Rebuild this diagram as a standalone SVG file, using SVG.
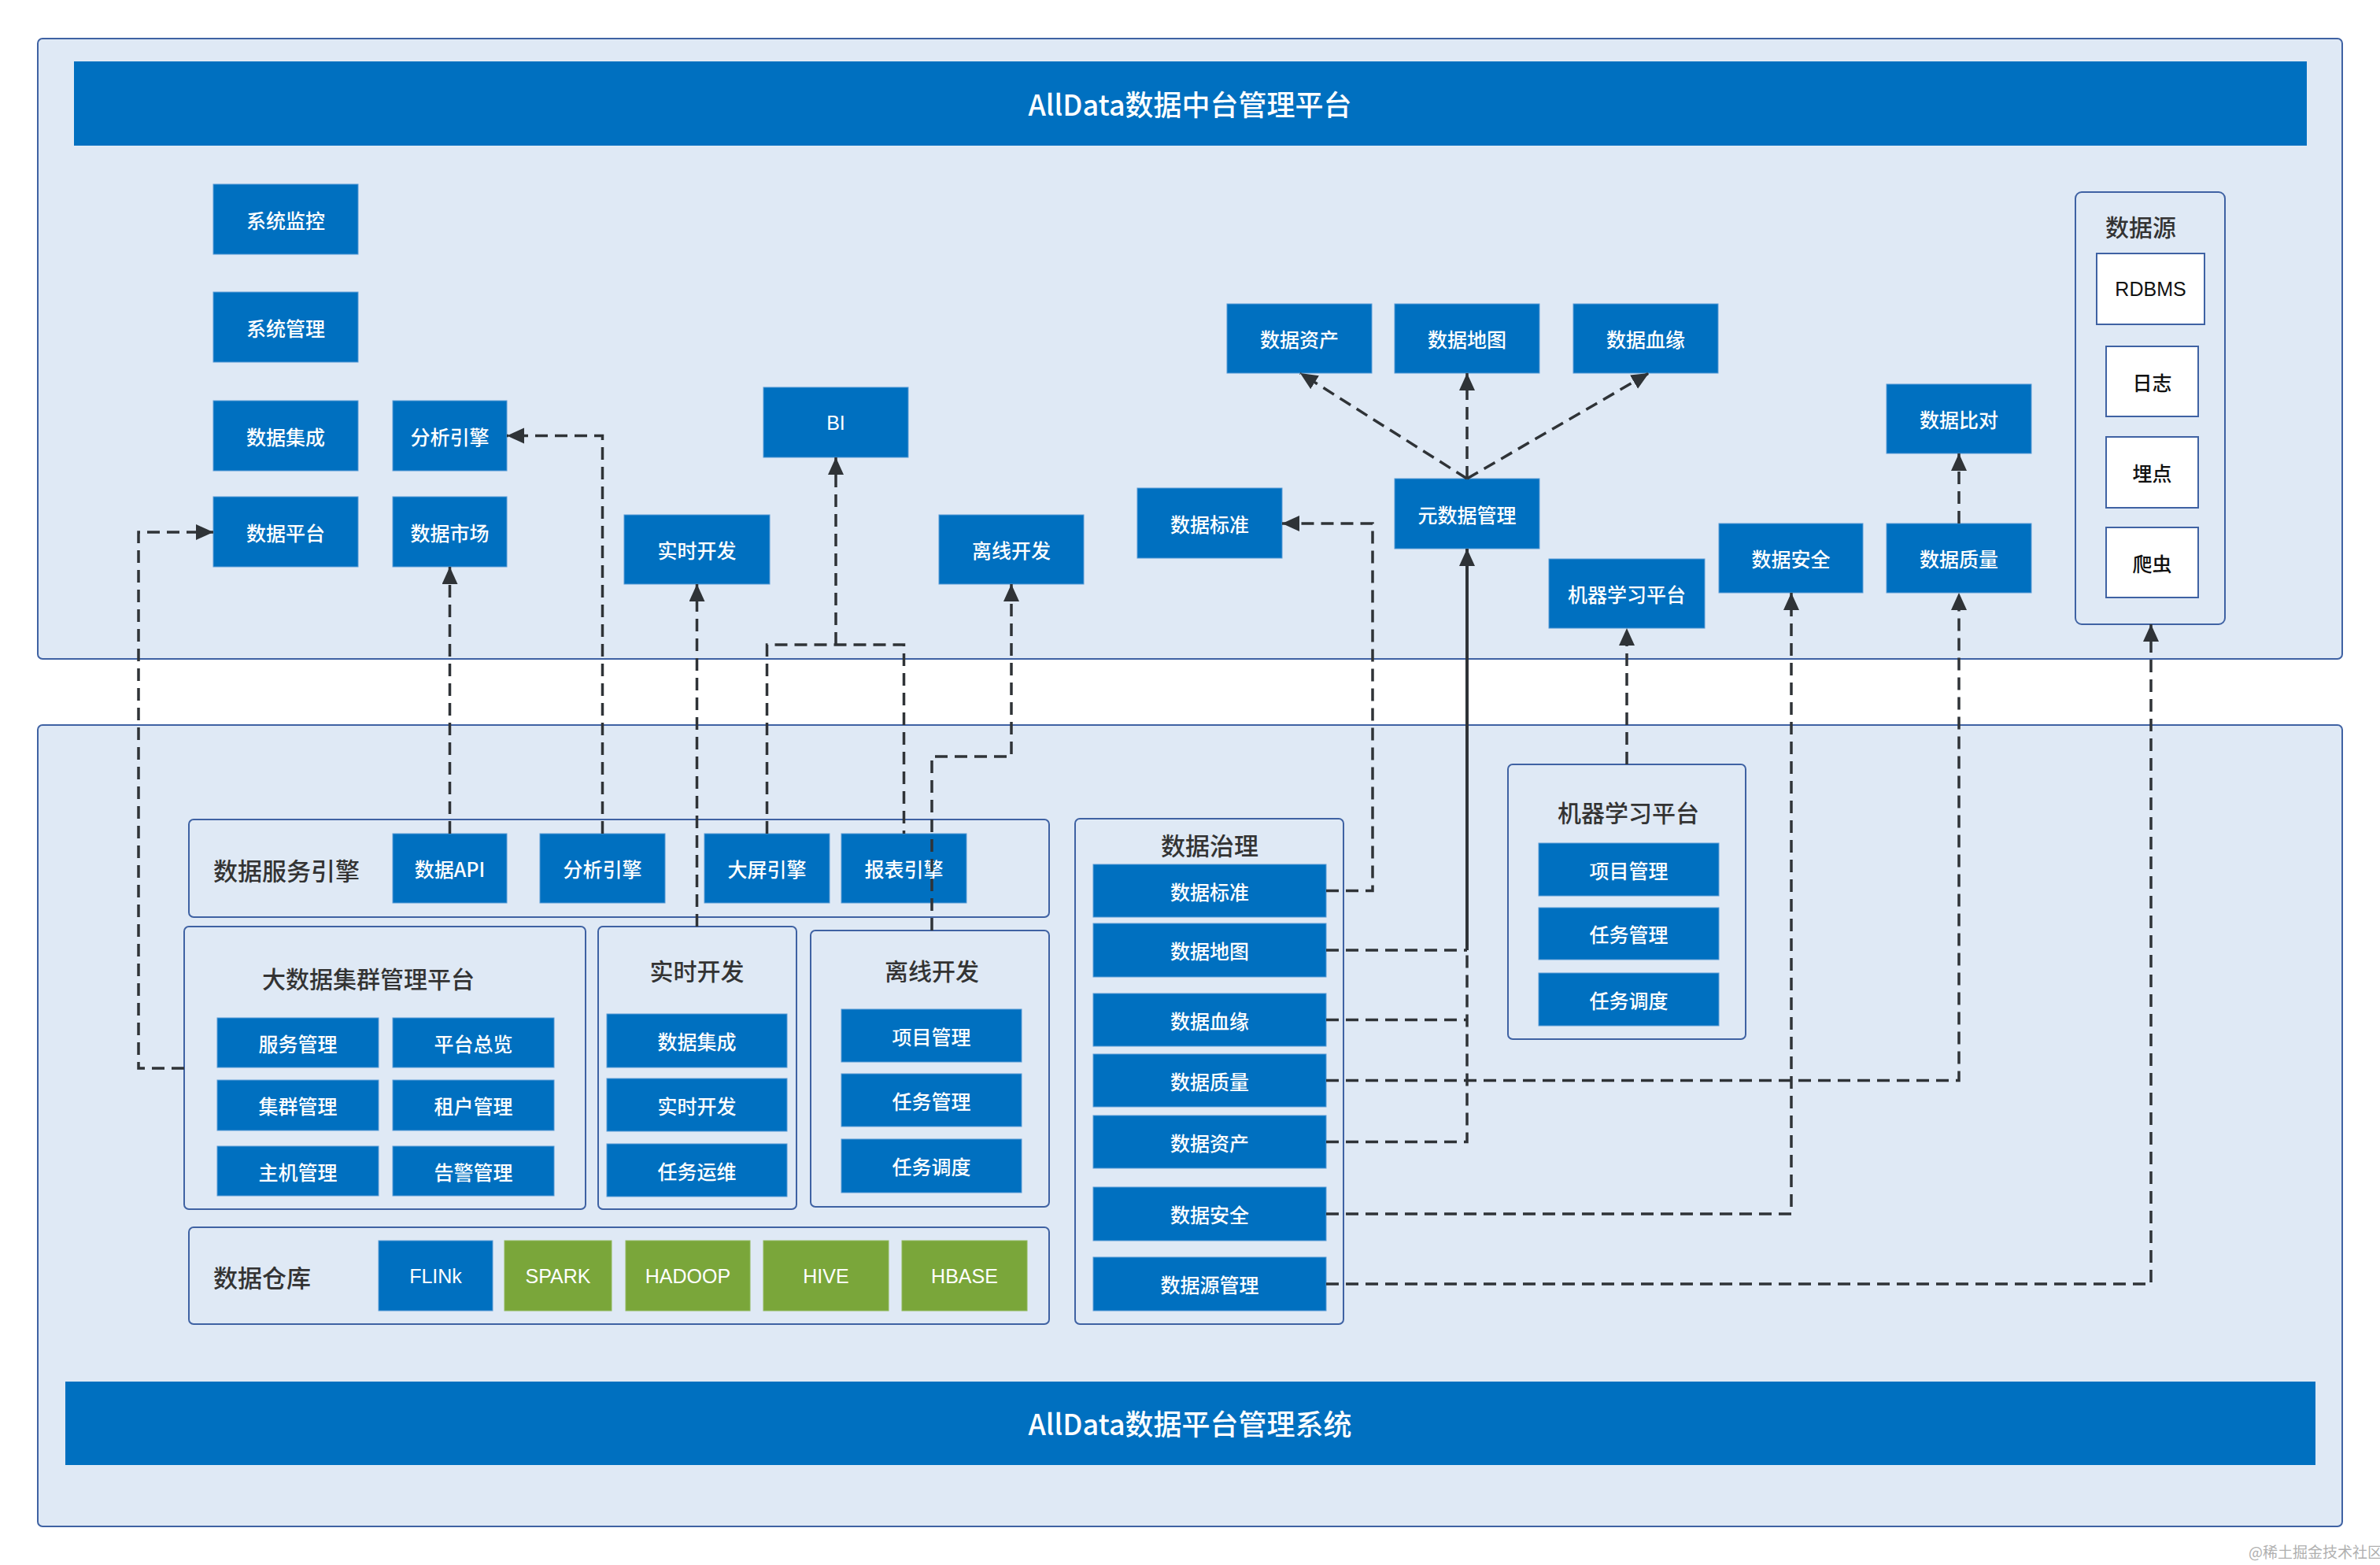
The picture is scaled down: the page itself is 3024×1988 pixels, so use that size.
<svg xmlns="http://www.w3.org/2000/svg" width="3024" height="1988" viewBox="0 0 3024 1988">
<style>
.panel{fill:#dfe9f5;stroke:#3f62a3;stroke-width:2}
.cont{fill:#dfe9f5;stroke:#3f62a3;stroke-width:2}
.bar{fill:#0070c0}
.box{fill:#0070c0;stroke:#5b9bd5;stroke-width:1}
.gbox{fill:#7aa63a;stroke:#8fb85a;stroke-width:1}
.wbox{fill:#ffffff;stroke:#3f62a3;stroke-width:2}
text{font-family:"Noto Sans CJK SC","Liberation Sans",sans-serif;dominant-baseline:central;text-anchor:middle}
.t{fill:#ffffff;font-size:25px;font-weight:500}
.tl{fill:#ffffff;font-size:25px;font-family:"Liberation Sans","Noto Sans CJK SC",sans-serif}
.title{fill:#ffffff;font-size:36px;font-weight:500}
.lab{fill:#333333;font-size:30px;font-weight:500}
.dk{fill:#111111;font-size:25px;font-weight:500}
.dash{fill:none;stroke:#2f3337;stroke-width:3.5;stroke-dasharray:16 9}
.solid{fill:none;stroke:#2f3337;stroke-width:4}
.wm{fill:#b0b0b0;font-size:19px;text-anchor:start}
</style>
<defs>
<marker id="arr" markerUnits="userSpaceOnUse" markerWidth="24" markerHeight="22" refX="22" refY="10" orient="auto">
<path d="M0,0 L22,10 L0,20 z" fill="#2f3337"/>
</marker>
</defs>
<rect width="3024" height="1988" fill="#ffffff"/>

<!-- top panel -->
<g id="top-panel">
<rect class="panel" x="48" y="49" width="2928" height="788" rx="6"/>
<rect class="bar" x="94" y="78" width="2837" height="107"/>
<text class="title" x="1512" y="131">AllData数据中台管理平台</text>
</g>

<!-- bottom panel -->
<g id="bottom-panel">
<rect class="panel" x="48" y="921" width="2928" height="1018" rx="6"/>
<rect class="bar" x="83" y="1755" width="2859" height="106"/>
<text class="title" x="1512" y="1807">AllData数据平台管理系统</text>
</g>

<!-- top nodes -->
<g id="n-xtjk"><rect class="box" x="271" y="234" width="184" height="89"/><text class="t" x="363" y="279">系统监控</text></g>
<g id="n-xtgl"><rect class="box" x="271" y="371" width="184" height="89"/><text class="t" x="363" y="416">系统管理</text></g>
<g id="n-sjjc"><rect class="box" x="271" y="509" width="184" height="89"/><text class="t" x="363" y="554">数据集成</text></g>
<g id="n-fxyq"><rect class="box" x="499" y="509" width="145" height="89"/><text class="t" x="571.5" y="554">分析引擎</text></g>
<g id="n-sjpt"><rect class="box" x="271" y="631" width="184" height="89"/><text class="t" x="363" y="676">数据平台</text></g>
<g id="n-sjsc"><rect class="box" x="499" y="631" width="145" height="89"/><text class="t" x="571.5" y="676">数据市场</text></g>
<g id="n-sskf"><rect class="box" x="793" y="654" width="185" height="88"/><text class="t" x="885.5" y="698">实时开发</text></g>
<g id="n-bi"><rect class="box" x="970" y="492" width="184" height="89"/><text class="tl" x="1062" y="537">BI</text></g>
<g id="n-lxkf"><rect class="box" x="1193" y="654" width="184" height="88"/><text class="t" x="1285" y="698">离线开发</text></g>
<g id="n-sjbz"><rect class="box" x="1445" y="620" width="184" height="89"/><text class="t" x="1537" y="665">数据标准</text></g>
<g id="n-sjzc"><rect class="box" x="1559" y="386" width="184" height="88"/><text class="t" x="1651" y="430">数据资产</text></g>
<g id="n-sjdt"><rect class="box" x="1772" y="386" width="184" height="88"/><text class="t" x="1864" y="430">数据地图</text></g>
<g id="n-sjxy"><rect class="box" x="1999" y="386" width="184" height="88"/><text class="t" x="2091" y="430">数据血缘</text></g>
<g id="n-ysjgl"><rect class="box" x="1772" y="608" width="184" height="89"/><text class="t" x="1864" y="653">元数据管理</text></g>
<g id="n-jqxx"><rect class="box" x="1968" y="710" width="198" height="88"/><text class="t" x="2067" y="754">机器学习平台</text></g>
<g id="n-sjaq"><rect class="box" x="2184" y="665" width="183" height="88"/><text class="t" x="2275.5" y="709">数据安全</text></g>
<g id="n-sjzl"><rect class="box" x="2397" y="665" width="184" height="88"/><text class="t" x="2489" y="709">数据质量</text></g>
<g id="n-sjbd"><rect class="box" x="2397" y="488" width="184" height="88"/><text class="t" x="2489" y="532">数据比对</text></g>
<g id="n-sjy">
<rect class="cont" x="2637" y="244" width="190" height="549" rx="8"/>
<text class="lab" x="2720" y="287">数据源</text>
<rect class="wbox" x="2664" y="322" width="137" height="90"/><text class="dk" x="2732.5" y="367" style="font-family:'Liberation Sans',sans-serif">RDBMS</text>
<rect class="wbox" x="2676" y="440" width="117" height="89"/><text class="dk" x="2734.5" y="485">日志</text>
<rect class="wbox" x="2676" y="555" width="117" height="90"/><text class="dk" x="2734.5" y="600">埋点</text>
<rect class="wbox" x="2676" y="670" width="117" height="89"/><text class="dk" x="2734.5" y="715">爬虫</text>
</g>

<!-- bottom containers and nodes -->
<g id="n-fwyq">
<rect class="cont" x="240" y="1041" width="1093" height="124" rx="6"/>
<text class="lab" x="364" y="1104" style="font-size:31px">数据服务引擎</text>
<rect class="box" x="499" y="1059" width="145" height="88"/><text class="t" x="571.5" y="1103">数据API</text>
<rect class="box" x="686" y="1059" width="159" height="88"/><text class="t" x="765.5" y="1103">分析引擎</text>
<rect class="box" x="895" y="1059" width="159" height="88"/><text class="t" x="974.5" y="1103">大屏引擎</text>
<rect class="box" x="1069" y="1059" width="159" height="88"/><text class="t" x="1148.5" y="1103">报表引擎</text>
</g>
<g id="n-dsjjq">
<rect class="cont" x="234" y="1177" width="510" height="359" rx="6"/>
<text class="lab" x="468" y="1242">大数据集群管理平台</text>
<rect class="box" x="276" y="1293" width="205" height="63"/><text class="t" x="378.5" y="1324.5">服务管理</text>
<rect class="box" x="499" y="1293" width="205" height="63"/><text class="t" x="601.5" y="1324.5">平台总览</text>
<rect class="box" x="276" y="1372" width="205" height="64"/><text class="t" x="378.5" y="1404">集群管理</text>
<rect class="box" x="499" y="1372" width="205" height="64"/><text class="t" x="601.5" y="1404">租户管理</text>
<rect class="box" x="276" y="1456" width="205" height="63"/><text class="t" x="378.5" y="1487.5">主机管理</text>
<rect class="box" x="499" y="1456" width="205" height="63"/><text class="t" x="601.5" y="1487.5">告警管理</text>
</g>
<g id="n-sskf2">
<rect class="cont" x="760" y="1177" width="252" height="359" rx="6"/>
<text class="lab" x="885.5" y="1232">实时开发</text>
<rect class="box" x="771" y="1288" width="229" height="68"/><text class="t" x="885.5" y="1322">数据集成</text>
<rect class="box" x="771" y="1370" width="229" height="67"/><text class="t" x="885.5" y="1403.5">实时开发</text>
<rect class="box" x="771" y="1453" width="229" height="67"/><text class="t" x="885.5" y="1486.5">任务运维</text>
</g>
<g id="n-lxkf2">
<rect class="cont" x="1030" y="1182" width="303" height="351" rx="6"/>
<text class="lab" x="1184" y="1232">离线开发</text>
<rect class="box" x="1069" y="1282" width="229" height="67"/><text class="t" x="1183.5" y="1315.5">项目管理</text>
<rect class="box" x="1069" y="1364" width="229" height="67"/><text class="t" x="1183.5" y="1397.5">任务管理</text>
<rect class="box" x="1069" y="1447" width="229" height="68"/><text class="t" x="1183.5" y="1481">任务调度</text>
</g>
<g id="n-sjck">
<rect class="cont" x="240" y="1559" width="1093" height="123" rx="6"/>
<text class="lab" x="333" y="1621" style="font-size:31px">数据仓库</text>
<rect class="box" x="481" y="1576" width="145" height="89"/><text class="tl" x="553.5" y="1621">FLINk</text>
<rect class="gbox" x="641" y="1576" width="136" height="89"/><text class="tl" x="709" y="1621">SPARK</text>
<rect class="gbox" x="795" y="1576" width="158" height="89"/><text class="tl" x="874" y="1621">HADOOP</text>
<rect class="gbox" x="970" y="1576" width="159" height="89"/><text class="tl" x="1049.5" y="1621">HIVE</text>
<rect class="gbox" x="1146" y="1576" width="159" height="89"/><text class="tl" x="1225.5" y="1621">HBASE</text>
</g>
<g id="n-sjzl2">
<rect class="cont" x="1366" y="1040" width="341" height="642" rx="6"/>
<text class="lab" x="1537" y="1072" style="font-size:31px">数据治理</text>
<rect class="box" x="1389" y="1098" width="296" height="67"/><text class="t" x="1537" y="1131.5">数据标准</text>
<rect class="box" x="1389" y="1173" width="296" height="68"/><text class="t" x="1537" y="1207">数据地图</text>
<rect class="box" x="1389" y="1262" width="296" height="67"/><text class="t" x="1537" y="1295.5">数据血缘</text>
<rect class="box" x="1389" y="1339" width="296" height="67"/><text class="t" x="1537" y="1372.5">数据质量</text>
<rect class="box" x="1389" y="1417" width="296" height="67"/><text class="t" x="1537" y="1450.5">数据资产</text>
<rect class="box" x="1389" y="1508" width="296" height="68"/><text class="t" x="1537" y="1542">数据安全</text>
<rect class="box" x="1389" y="1597" width="296" height="68"/><text class="t" x="1537" y="1631">数据源管理</text>
</g>
<g id="n-jqxx2">
<rect class="cont" x="1916" y="971" width="302" height="349" rx="6"/>
<text class="lab" x="2069" y="1031">机器学习平台</text>
<rect class="box" x="1955" y="1071" width="229" height="67"/><text class="t" x="2069.5" y="1104.5">项目管理</text>
<rect class="box" x="1955" y="1153" width="229" height="66"/><text class="t" x="2069.5" y="1186">任务管理</text>
<rect class="box" x="1955" y="1236" width="229" height="67"/><text class="t" x="2069.5" y="1269.5">任务调度</text>
</g>

<!-- connectors -->
<g id="connectors">
<path class="dash" d="M234,1357 H176 V676 H271" marker-end="url(#arr)"/>
<path class="dash" d="M571.5,1059 V720" marker-end="url(#arr)"/>
<path class="dash" d="M765.5,1059 V553.5 H644" marker-end="url(#arr)"/>
<path class="dash" d="M885.5,1177 V742" marker-end="url(#arr)"/>
<path class="dash" d="M974.5,1059 V819 H1148.5 V1059"/>
<path class="dash" d="M1062,819 V581" marker-end="url(#arr)"/>
<path class="dash" d="M1184,1182 V961 H1285 V742" marker-end="url(#arr)"/>
<path class="dash" d="M1685,1131.5 H1744 V665 H1629" marker-end="url(#arr)"/>
<path class="dash" d="M1685,1207 H1864"/>
<path class="dash" d="M1685,1295.5 H1864"/>
<path class="dash" d="M1685,1450.5 H1864 V1207"/>
<path class="solid" d="M1864,1207 V697" marker-end="url(#arr)"/>
<path class="dash" d="M1864,608 L1652,474" marker-end="url(#arr)"/>
<path class="dash" d="M1864,608 V474" marker-end="url(#arr)"/>
<path class="dash" d="M1864,608 L2095,474" marker-end="url(#arr)"/>
<path class="dash" d="M1685,1372.5 H2489 V753" marker-end="url(#arr)"/>
<path class="dash" d="M2489,665 V576" marker-end="url(#arr)"/>
<path class="dash" d="M1685,1542 H2276 V753" marker-end="url(#arr)"/>
<path class="dash" d="M1685,1631 H2733 V793" marker-end="url(#arr)"/>
<path class="dash" d="M2067,971 V798" marker-end="url(#arr)"/>
</g>

<text class="wm" x="2857" y="1970">@稀土掘金技术社区</text>
</svg>
